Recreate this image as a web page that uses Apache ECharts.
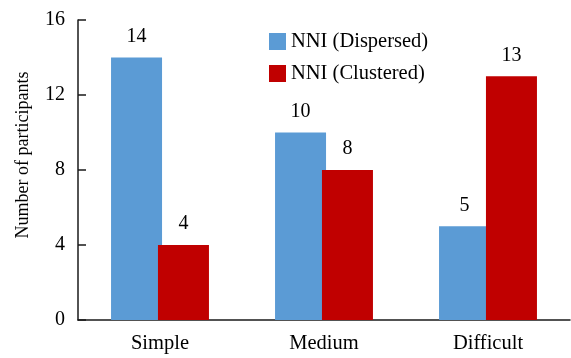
<!DOCTYPE html>
<html>
<head>
<meta charset="utf-8">
<script src="https://cdn.jsdelivr.net/npm/echarts@6/dist/echarts.min.js"></script>
<style>
  html, body { margin: 0; padding: 0; background: #fff; }
  #chart { width: 571px; height: 358px; }
</style>
</head>
<body>
<div id="chart"></div>
<script>
// Participants per difficulty level, split by NNI pattern
const categories = ['Simple', 'Medium', 'Difficult'];
const dispersed = [14, 10, 5];
const clustered = [4, 8, 13];
const seriesNames = ['NNI (Dispersed)', 'NNI (Clustered)'];
const yTicks = { min: 0, max: 16, interval: 4 };

const FONT = '"Liberation Serif", "Times New Roman", serif';
const AXIS_COLOR = '#1a1a1a';

const chart = echarts.init(document.getElementById('chart'), null, { renderer: 'canvas' });

const labelStyle = {
  show: true,
  position: 'top',
  distance: 11,
  fontFamily: FONT,
  fontSize: 20,
  color: '#000'
};

chart.setOption({
  animation: false,
  backgroundColor: '#fff',
  grid: { left: 78, right: 1, top: 20, bottom: 38, containLabel: false },
  legend: {
    orient: 'vertical',
    left: 264,
    top: 26,
    itemWidth: 17,
    itemHeight: 17,
    itemGap: 11,
    icon: 'rect',
    textStyle: { fontFamily: FONT, fontSize: 20.5, color: '#000' },
    data: seriesNames
  },
  xAxis: {
    type: 'category',
    data: categories,
    axisLine: { lineStyle: { color: AXIS_COLOR, width: 1.5 } },
    axisTick: { inside: true, length: 8, lineStyle: { color: AXIS_COLOR, width: 1.5 } },
    axisLabel: { margin: 13, fontFamily: FONT, fontSize: 20.5, color: '#000' }
  },
  yAxis: {
    type: 'value',
    min: yTicks.min,
    max: yTicks.max,
    interval: yTicks.interval,
    name: 'Number of participants',
    nameLocation: 'middle',
    nameGap: 46,
    nameRotate: 90,
    nameTextStyle: { fontFamily: FONT, fontSize: 18, color: '#000', padding: [0, 0, 0, 30] },
    axisLine: { show: true, lineStyle: { color: AXIS_COLOR, width: 1.5 } },
    axisTick: { show: true, inside: true, length: 8, lineStyle: { color: AXIS_COLOR, width: 1.5 } },
    axisLabel: { margin: 13, fontFamily: FONT, fontSize: 20, color: '#000' },
    splitLine: { show: false }
  },
  series: [
    {
      name: seriesNames[0],
      type: 'bar',
      data: dispersed,
      barWidth: 51,
      barGap: '-8%',
      itemStyle: { color: '#5B9BD5' },
      label: labelStyle
    },
    {
      name: seriesNames[1],
      type: 'bar',
      data: clustered,
      barWidth: 51,
      itemStyle: { color: '#C00000' },
      label: labelStyle
    }
  ]
});
</script>
</body>
</html>
